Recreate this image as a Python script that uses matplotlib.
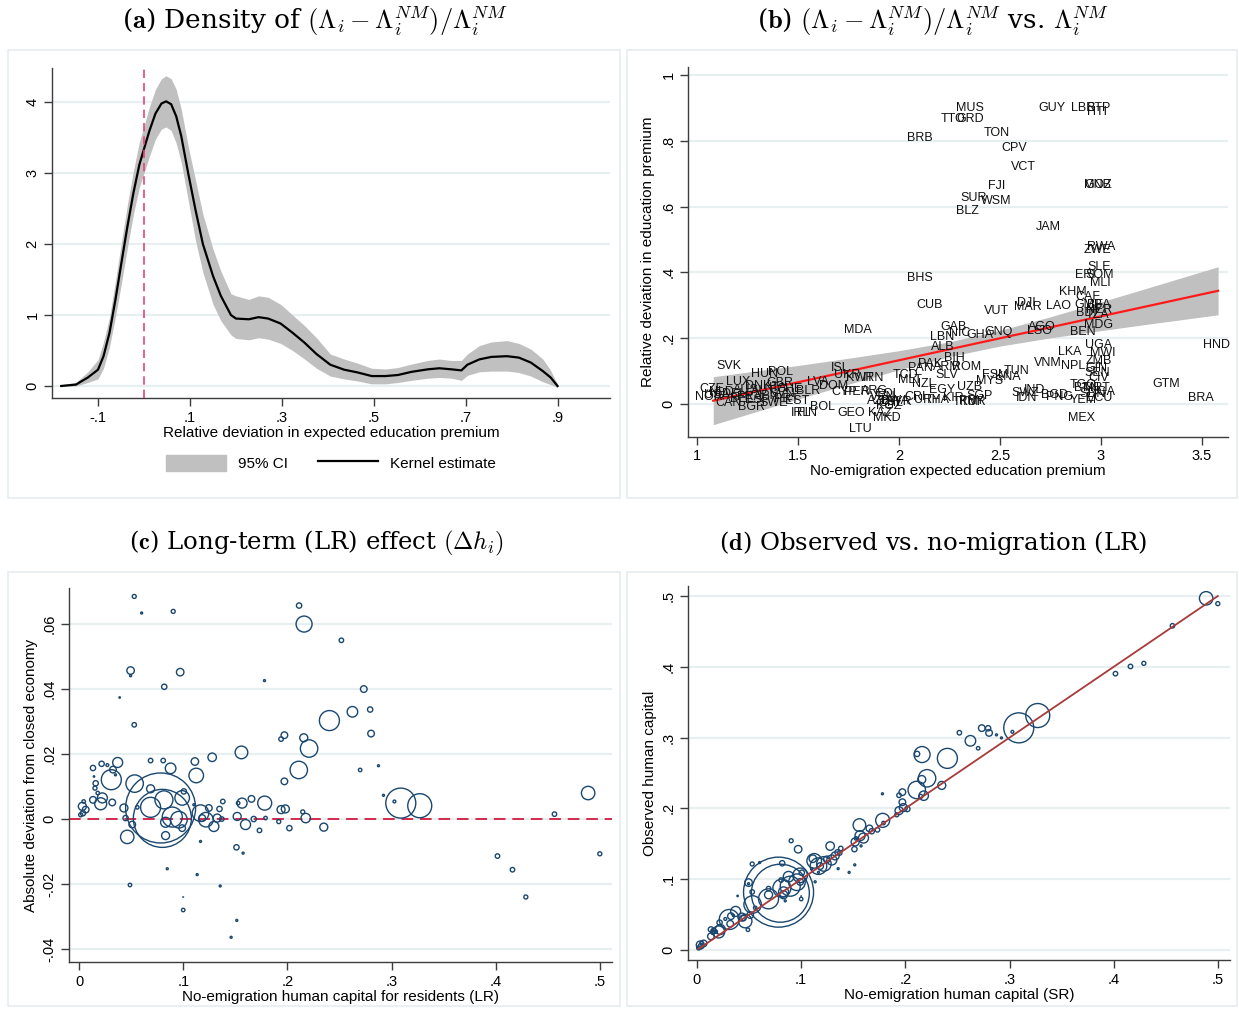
import numpy as np
import matplotlib
matplotlib.use("Agg")
import matplotlib.pyplot as plt
from matplotlib.patches import Rectangle, Patch
from matplotlib.lines import Line2D

plt.rcParams['font.family'] = ['Liberation Sans', 'DejaVu Sans']
plt.rcParams['mathtext.fontset'] = 'cm'

# ---------------- Panel (a): kernel density ----------------
dens_x = [-0.18, -0.148, -0.122, -0.10, -0.088, -0.075, -0.062, -0.049, -0.036, -0.023, -0.01,
          0.0, 0.012, 0.025, 0.038, 0.048, 0.059, 0.07, 0.081, 0.096, 0.112, 0.128, 0.15, 0.167,
          0.189, 0.20, 0.228, 0.249, 0.27, 0.297, 0.323, 0.349, 0.375, 0.405, 0.435, 0.465, 0.495,
          0.525, 0.552, 0.582, 0.617, 0.642, 0.668, 0.69, 0.703, 0.729, 0.755, 0.789, 0.815,
          0.841, 0.867, 0.884, 0.899]
dens_y = [0.0, 0.02, 0.12, 0.23, 0.42, 0.75, 1.22, 1.74, 2.25, 2.72, 3.12,
          3.34, 3.60, 3.84, 3.98, 4.01, 3.97, 3.80, 3.52, 3.00, 2.48, 2.00, 1.55, 1.27,
          1.00, 0.95, 0.94, 0.97, 0.95, 0.88, 0.75, 0.61, 0.45, 0.30, 0.23, 0.19, 0.14,
          0.14, 0.155, 0.20, 0.235, 0.25, 0.235, 0.22, 0.30, 0.375, 0.41, 0.42, 0.40,
          0.33, 0.21, 0.12, 0.0]
ci_lo = [0.0, 0.0, 0.05, 0.10, 0.25, 0.55, 0.98, 1.45, 1.95, 2.42, 2.80,
         3.00, 3.24, 3.48, 3.62, 3.65, 3.60, 3.42, 3.15, 2.62, 2.05, 1.60, 1.15, 0.92,
         0.72, 0.67, 0.65, 0.68, 0.66, 0.60, 0.50, 0.38, 0.25, 0.14, 0.10, 0.07, 0.03,
         0.03, 0.05, 0.08, 0.11, 0.12, 0.11, 0.08, 0.15, 0.20, 0.21, 0.21, 0.19,
         0.14, 0.06, 0.02, -0.02]
ci_hi = [0.02, 0.05, 0.20, 0.37, 0.62, 0.97, 1.48, 2.03, 2.56, 3.03, 3.44,
         3.66, 3.94, 4.18, 4.33, 4.37, 4.33, 4.18, 3.90, 3.38, 2.90, 2.42, 1.93, 1.62,
         1.30, 1.27, 1.22, 1.27, 1.25, 1.15, 1.00, 0.85, 0.68, 0.45, 0.38, 0.32, 0.25,
         0.24, 0.26, 0.31, 0.36, 0.38, 0.36, 0.36, 0.45, 0.57, 0.62, 0.64, 0.60,
         0.52, 0.38, 0.22, 0.02]
a_xticks = [-0.1, 0.1, 0.3, 0.5, 0.7, 0.9]
a_xticklabels = ['-.1', '.1', '.3', '.5', '.7', '.9']
a_yticks = [0, 1, 2, 3, 4]
a_yticklabels = ['0', '1', '2', '3', '4']

# ---------------- Panel (b): country labels ----------------
b_codes = ["MUS", "TTO", "GRD", "GUY", "LBR", "STP", "HTI", "BRB", "TON", "CPV", "VCT", "FJI",
           "SUR", "WSM", "BLZ", "GNB", "MOZ", "JAM", "RWA", "ZWE", "SLE", "ERI", "SOM", "MLI",
           "BHS", "KHM", "CAF", "CUB", "VUT", "DJI", "MAR", "LAO", "GMB", "BFA", "BDI", "NER",
           "TZA", "MDG", "BEN", "MDA", "GAB", "NIC", "LBN", "GHA", "GNQ", "AGO", "LSO", "ALB",
           "BIH", "PAK", "PAN", "ARM", "ROM", "SLV", "TCD", "MLT", "NZL", "EGY", "UZB", "MYS",
           "FSM", "TUN", "KNA", "SGP", "TUR", "THA", "KIR", "IND", "SWZ", "IDN", "BGD", "MEX",
           "VNM", "LKA", "NPL", "UGA", "MWI", "ZMB", "GIN", "SEN", "CIV", "TGO", "MRT", "NGA",
           "SDN", "YEM", "PNG", "ECU", "HND", "GTM", "BRA",
           "SVK", "HUN", "POL", "LUX", "GBR", "DNK", "CZE", "NOR", "CHE", "BLR", "LVA", "EST",
           "CAN", "BGR", "SWE", "IRL", "FIN", "BOL", "ISL", "UKR", "LTU", "GEO", "DOM", "CYP",
           "PER", "KAZ", "MKD", "KWT", "IRN", "NLD", "DEU", "AUS", "FRA", "AUT", "ITA", "ESP",
           "BEL", "USA", "JPN", "SVN", "PRT", "VEN", "BWA", "SYR", "AZE", "ARG", "CHL", "KGZ",
           "TKM", "PRY", "BTN", "COL", "CRI", "URY"]
b_premium = [2.351, 2.267, 2.351, 2.756, 2.912, 2.987, 2.979, 2.104, 2.485, 2.569, 2.614, 2.485,
             2.371, 2.480, 2.337, 2.987, 2.987, 2.739, 3.003, 2.982, 2.992, 2.921, 2.995, 2.998,
             2.104, 2.860, 2.937, 2.153, 2.484, 2.632, 2.640, 2.789, 2.937, 2.990, 2.929, 2.990,
             2.985, 2.987, 2.912, 1.797, 2.269, 2.302, 2.211, 2.401, 2.492, 2.706, 2.698, 2.216,
             2.272, 2.153, 2.104, 2.236, 2.335, 2.236, 2.030, 2.054, 2.120, 2.211, 2.351, 2.450,
             2.475, 2.583, 2.541, 2.400, 2.368, 2.187, 2.269, 2.673, 2.624, 2.632, 2.772, 2.904,
             2.739, 2.847, 2.863, 2.987, 3.008, 2.987, 2.979, 2.982, 2.987, 2.912, 2.979, 3.003,
             2.960, 2.912, 2.797, 2.990, 3.574, 3.322, 3.495,
             1.160, 1.332, 1.411, 1.205, 1.411, 1.304, 1.073, 1.056, 1.460, 1.551, 1.600, 1.493,
             1.155, 1.271, 1.378, 1.510, 1.543, 1.619, 1.711, 1.741, 1.807, 1.761, 1.675, 1.728,
             1.791, 1.906, 1.939, 1.807, 1.873, 1.120, 1.190, 1.240, 1.260, 1.330, 1.400, 1.300,
             1.220, 1.100, 1.350, 1.420, 1.440, 1.920, 1.980, 2.000, 1.900, 1.880, 1.960, 1.950,
             2.330, 2.360, 2.930, 1.940, 2.080, 2.140]
b_deviation = [0.900, 0.866, 0.866, 0.899, 0.899, 0.899, 0.887, 0.809, 0.824, 0.778, 0.720, 0.663,
               0.626, 0.617, 0.587, 0.664, 0.664, 0.537, 0.478, 0.468, 0.417, 0.392, 0.392, 0.367,
               0.383, 0.341, 0.326, 0.301, 0.284, 0.306, 0.294, 0.298, 0.301, 0.301, 0.276, 0.285,
               0.270, 0.240, 0.218, 0.225, 0.233, 0.215, 0.205, 0.210, 0.220, 0.235, 0.222, 0.172,
               0.139, 0.122, 0.108, 0.111, 0.111, 0.088, 0.088, 0.073, 0.060, 0.043, 0.053, 0.071,
               0.088, 0.100, 0.081, 0.024, 0.007, 0.012, 0.017, 0.043, 0.033, 0.017, 0.027, -0.044,
               0.124, 0.159, 0.116, 0.179, 0.154, 0.131, 0.110, 0.093, 0.078, 0.058, 0.048, 0.037,
               0.030, 0.012, 0.022, 0.017, 0.179, 0.061, 0.018,
               0.116, 0.090, 0.098, 0.068, 0.065, 0.056, 0.045, 0.022, 0.046, 0.040, 0.066, 0.010,
               0.002, -0.010, 0.004, -0.028, -0.026, -0.009, 0.108, 0.088, -0.076, -0.026, 0.056, 0.037,
               0.037, -0.028, -0.044, 0.078, 0.078, 0.035, 0.030, 0.042, 0.020, 0.040, 0.050, 0.012,
               0.015, 0.028, 0.025, 0.030, 0.015, 0.020, 0.010, 0.005, 0.010, 0.040, 0.003, -0.005,
               0.006, 0.010, 0.048, 0.030, 0.020, 0.012]
fit_x = [1.08, 3.58]
fit_y = [0.010, 0.344]
fitci_x = [1.08, 1.3, 1.5, 1.75, 2.0, 2.25, 2.5, 2.75, 3.0, 3.25, 3.58]
fitci_lo = [-0.063, -0.022, 0.015, 0.060, 0.104, 0.144, 0.176, 0.201, 0.223, 0.244, 0.271]
fitci_hi = [0.083, 0.101, 0.117, 0.139, 0.162, 0.189, 0.224, 0.265, 0.310, 0.356, 0.417]
b_xticks = [1, 1.5, 2, 2.5, 3, 3.5]
b_xticklabels = ['1', '1.5', '2', '2.5', '3', '3.5']
b_yticks = [0, 0.2, 0.4, 0.6, 0.8, 1.0]
b_yticklabels = ['0', '.2', '.4', '.6', '.8', '1']

# ---------------- Panels (c), (d): human capital ----------------
h_nm = [0.0530, 0.0601, 0.0904, 0.0495, 0.0495, 0.0971, 0.0818, 0.0390, 0.0530, 0.1780,
        0.1559, 0.1278, 0.1112, 0.0879, 0.1125, 0.0808, 0.0687, 0.0371, 0.0217, 0.0134,
        0.0272, 0.0326, 0.0310, 0.0534, 0.0160, 0.0153, 0.0180, 0.0224, 0.0208, 0.0319,
        0.0134, 0.0045, 0.0032, 0.0064, 0.0038, 0.0016, 0.0144, 0.0350, 0.0783, 0.0800,
        0.0687, 0.0815, 0.0687, 0.0990, 0.0895, 0.0959, 0.0831, 0.0990, 0.0831, 0.0463,
        0.0431, 0.0447, 0.0511, 0.0559, 0.1006, 0.1166, 0.1218, 0.1294, 0.1246, 0.1348,
        0.1380, 0.1326, 0.1370, 0.1182, 0.1102, 0.1565, 0.1655, 0.1782, 0.1518, 0.1598,
        0.1677, 0.1732, 0.1790, 0.1527, 0.1511, 0.1575, 0.1166, 0.0847, 0.1134, 0.0489,
        0.1355, 0.1000, 0.1000, 0.1514, 0.1460,
        0.2112, 0.2160, 0.2518, 0.2733, 0.2403, 0.2624, 0.2794, 0.2803, 0.1971, 0.1939,
        0.2157, 0.2208, 0.2109, 0.1971, 0.2698, 0.2874, 0.2922, 0.3027, 0.3088, 0.3270,
        0.1939, 0.1980, 0.2147, 0.2176, 0.1917, 0.2019, 0.2349, 0.4016, 0.4160, 0.4288,
        0.4563, 0.4886, 0.4998]
h_dev = [0.0685, 0.0634, 0.0639, 0.0457, 0.0441, 0.0452, 0.0407, 0.0374, 0.0290, 0.0426,
         0.0205, 0.0190, 0.0177, 0.0156, 0.0134, 0.0180, 0.0180, 0.0174, 0.0170, 0.0157,
         0.0166, 0.0152, 0.0121, 0.0109, 0.0110, 0.0095, 0.0080, 0.0065, 0.0047, 0.0051,
         0.0059, 0.0054, 0.0039, 0.0029, 0.0018, 0.0013, 0.0131, 0.0136, 0.0034, 0.0002,
         0.0093, 0.0059, 0.0036, 0.0065, 0.0006, -0.0002, -0.0010, -0.0028, -0.0051, -0.0055,
         0.0034, 0.0003, -0.0017, 0.0036, 0.0085, 0.0018, -0.0002, -0.0023, 0.0034, 0.0031,
         0.0054, 0.0003, 0.0000, 0.0003, 0.0044, 0.0049, 0.0062, 0.0049, 0.0008, -0.0017,
         0.0000, -0.0035, 0.0003, 0.0049, -0.0087, -0.0105, -0.0069, -0.0153, -0.0171, -0.0203,
         -0.0206, -0.0280, -0.0240, -0.0312, -0.0364,
         0.0657, 0.0600, 0.0550, 0.0400, 0.0303, 0.0330, 0.0337, 0.0263, 0.0258, 0.0246,
         0.0250, 0.0217, 0.0151, 0.0116, 0.0151, 0.0164, 0.0073, 0.0054, 0.0049, 0.0041,
         0.0029, 0.0031, 0.0022, 0.0003, -0.0008, -0.0028, -0.0025, -0.0114, -0.0156, -0.0240,
         0.0015, 0.0080, -0.0107]
# population weights (marker area)
h_weight = [4, 1, 4, 14, 1, 14, 7, 0.5, 5, 1,
            40, 18, 14, 28, 53, 5, 5, 25, 7, 7,
            2, 11, 100, 76, 7, 4, 3, 25, 36, 11,
            11, 3, 16, 11, 7, 4, 0.5, 1, 1225, 841,
            16, 81, 100, 53, 100, 69, 25, 11, 16, 45,
            16, 7, 11, 3, 7, 69, 53, 25, 11, 7,
            5, 16, 5, 11, 1, 25, 11, 49, 16, 25,
            7, 5, 3, 3, 7, 1, 1, 1, 1, 3,
            1, 3, 0.1, 1, 1,
            7, 64, 5, 11, 100, 28, 7, 11, 11, 5,
            16, 76, 76, 11, 3, 1, 1, 2, 225, 144,
            16, 16, 4, 22, 4, 7, 16, 5, 5, 4,
            5, 45, 4]
c_xticks = [0, 0.1, 0.2, 0.3, 0.4, 0.5]
c_xticklabels = ['0', '.1', '.2', '.3', '.4', '.5']
c_yticks = [-0.04, -0.02, 0, 0.02, 0.04, 0.06]
c_yticklabels = ['-.04', '-.02', '0', '.02', '.04', '.06']
d_ticks = [0, 0.1, 0.2, 0.3, 0.4, 0.5]
d_ticklabels = ['0', '.1', '.2', '.3', '.4', '.5']

# ---------------- figure ----------------
W, H = 1239, 1009
fig = plt.figure(figsize=(W / 100, H / 100), dpi=100)

def fpos(l, r, t, b):
    return [l / W, 1 - b / H, (r - l) / W, (b - t) / H]

FRAME = '#e6edf0'
GRID = '#e8eff1'
SPINE = '#3c3c3c'
NAVY = '#1a476f'
TITLE_FONT = ['DejaVu Serif']

for (l, r, t, b) in [(8, 620, 50, 498), (627, 1237, 50, 498), (8, 620, 572, 1006), (627, 1237, 572, 1006)]:
    fig.patches.append(Rectangle((l / W, 1 - b / H), (r - l) / W, (b - t) / H,
                                 transform=fig.transFigure, fill=False, ec=FRAME, lw=1.2))

def style(ax, xt, xtl, yt, ytl):
    for s in ['top', 'right']:
        ax.spines[s].set_visible(False)
    for s in ['left', 'bottom']:
        ax.spines[s].set_color(SPINE)
        ax.spines[s].set_linewidth(1.0)
    ax.set_xticks(xt)
    ax.set_xticklabels(xtl)
    ax.set_yticks(yt)
    ax.set_yticklabels(ytl, rotation=90, va='center')
    ax.tick_params(axis='both', direction='out', length=6, width=1, color=SPINE,
                   labelsize=10.5, pad=3)
    ax.yaxis.grid(True, color=GRID, lw=1.6)
    ax.set_axisbelow(True)

TSIZE = 19
TSIZE_TEXT = 17.6

# Panel (a)
ax = fig.add_axes(fpos(52, 610, 68, 398))
ax.fill_between(dens_x, ci_lo, ci_hi, color='#c0c0c0', lw=0)
ax.plot(dens_x, dens_y, color='black', lw=1.6)
ax.axvline(0, color='#e0457b', lw=1.2, dashes=(5, 3))
ax.set_xlim(-0.2, 1.013)
ax.set_ylim(-0.169, 4.48)
style(ax, a_xticks, a_xticklabels, a_yticks, a_yticklabels)
ax.set_xlabel('Relative deviation in expected education premium', fontsize=11, labelpad=1)
handles = [Patch(color='#c0c0c0', label='95% CI'),
           Line2D([], [], color='black', lw=1.6, label='Kernel estimate')]
ax.legend(handles=handles, loc='center', bbox_to_anchor=(331 / W, 1 - 463 / H),
          bbox_transform=fig.transFigure, ncol=2, frameon=False, fontsize=11,
          handlelength=3.9, handleheight=1.3, columnspacing=2.0, handletextpad=0.8)
fig.text(315 / W, 1 - 21 / H, r'($\mathbf{a}$) Density of $(\Lambda_i - \Lambda_i^{NM})/\Lambda_i^{NM}$',
         ha='center', va='center', fontsize=TSIZE, family=TITLE_FONT)

# Panel (b)
ax = fig.add_axes(fpos(688, 1228, 67, 437))
ax.fill_between(fitci_x, fitci_lo, fitci_hi, color='#c0c0c0', lw=0)
ax.plot(fit_x, fit_y, color='#ff1a1a', lw=1.6)
for code, xv, yv in zip(b_codes, b_premium, b_deviation):
    ax.text(xv, yv, code, ha='center', va='center', fontsize=9, color='#111111')
ax.set_xlim(0.955, 3.629)
ax.set_ylim(-0.1003, 1.024)
style(ax, b_xticks, b_xticklabels, b_yticks, b_yticklabels)
ax.set_xlabel('No-emigration expected education premium', fontsize=11, labelpad=0)
ax.set_ylabel('Relative deviation in education premium', fontsize=11, labelpad=5)
fig.text(933 / W, 1 - 21 / H,
         r'($\mathbf{b}$) $(\Lambda_i - \Lambda_i^{NM})/\Lambda_i^{NM}$ vs. $\Lambda_i^{NM}$',
         ha='center', va='center', fontsize=TSIZE, family=TITLE_FONT)

sizes = [(1.44 ** 2) * w for w in h_weight]

# Panel (c)
ax = fig.add_axes(fpos(69, 612, 588, 962))
ax.scatter(h_nm, h_dev, s=sizes, facecolors='none', edgecolors=NAVY, linewidths=1.0, zorder=3)
ax.axhline(0, color='#d42a4e', lw=1.4, dashes=(6, 3.5), zorder=2)
ax.set_xlim(-0.0096, 0.5115)
ax.set_ylim(-0.044, 0.0711)
style(ax, c_xticks, c_xticklabels, c_yticks, c_yticklabels)
ax.set_xlabel('No-emigration human capital for residents (LR)', fontsize=11, labelpad=1)
ax.set_ylabel('Absolute deviation from closed economy', fontsize=11, labelpad=3)
fig.text(316 / W, 1 - 543 / H, r'($\mathbf{c}$) Long-term (LR) effect $(\Delta h_i)$',
         ha='center', va='center', fontsize=TSIZE_TEXT, family=TITLE_FONT)

# Panel (d)
h_obs = [a + b for a, b in zip(h_nm, h_dev)]
ax = fig.add_axes(fpos(688, 1230, 586, 960))
ax.scatter(h_nm, h_obs, s=sizes, facecolors='none', edgecolors=NAVY, linewidths=1.0, zorder=3)
lo, hi = min(h_nm), max(h_nm)
ax.plot([lo, hi], [lo, hi], color='#a83a3a', lw=1.3, zorder=4)
ax.set_xlim(-0.0086, 0.5115)
ax.set_ylim(-0.0141, 0.514)
style(ax, d_ticks, d_ticklabels, d_ticks, d_ticklabels)
ax.set_xlabel('No-emigration human capital (SR)', fontsize=11, labelpad=1)
ax.set_ylabel('Observed human capital', fontsize=11, labelpad=3)
fig.text(933 / W, 1 - 543 / H, r'($\mathbf{d}$) Observed vs. no-migration (LR)',
         ha='center', va='center', fontsize=TSIZE_TEXT, family=TITLE_FONT)

fig.savefig('out.png', dpi=100)
